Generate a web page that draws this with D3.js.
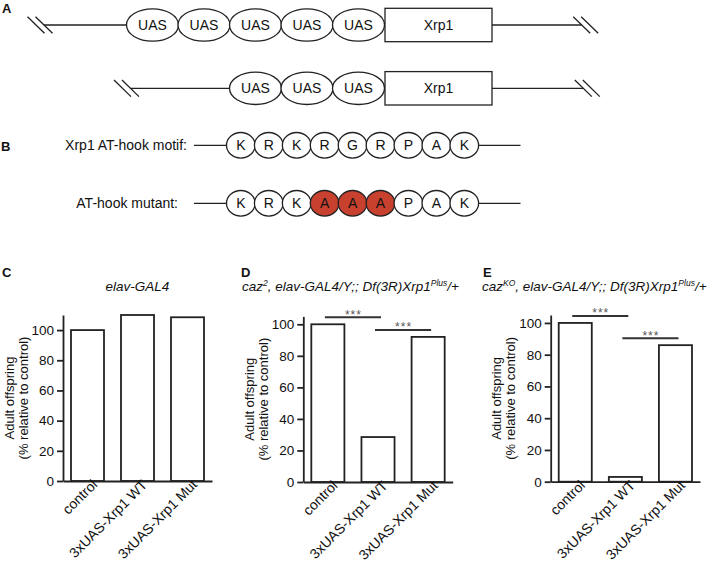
<!DOCTYPE html>
<html>
<head>
<meta charset="utf-8">
<script src="https://cdn.jsdelivr.net/npm/d3@7/dist/d3.min.js"></script>
<style>
  body { margin: 0; background: #fff; }
  svg { display: block; font-family: "Liberation Sans", Arial, Helvetica, sans-serif; fill: #111; }
  .axis path, .axis line { stroke: #222; stroke-width: 1.8; fill: none; }
  .axis text { font-size: 13.5px; fill: #111; font-family: "Liberation Sans", Arial, sans-serif; }
  .bar { fill: #fff; stroke: #222; stroke-width: 1.8; }
  .letter { font-weight: bold; font-size: 13px; }
  .diag line { stroke: #222; stroke-width: 1.3; fill: none; }
  .diag ellipse, .diag rect { fill: #fff; stroke: #222; stroke-width: 1.3; }
  .diag text { font-size: 14px; }
  .sig line { stroke: #333; stroke-width: 2; }
  .sig text { font-size: 12px; fill: #555; letter-spacing: 1px; }
</style>
</head>
<body>
<svg id="fig" width="719" height="565"></svg>
<script>
// ---- data ----
const uasCopies = [5, 3];
const geneName = "Xrp1";
const motifLabels = ["Xrp1 AT-hook motif:", "AT-hook mutant:"];
const motifWT = ["K", "R", "K", "R", "G", "R", "P", "A", "K"];
const motifMut = ["K", "R", "K", "A", "A", "A", "P", "A", "K"];
const mutatedSites = [3, 4, 5];

const categories = ["control", "3xUAS-Xrp1 WT", "3xUAS-Xrp1 Mut"];
const valuesC = [100, 110, 108.5];
const valuesD = [100, 28.5, 92];
const valuesE = [100, 3, 86];
const yTicks = [0, 20, 40, 60, 80, 100];
const sigPairs = [["control", "3xUAS-Xrp1 WT"], ["3xUAS-Xrp1 WT", "3xUAS-Xrp1 Mut"]];
const sigLabel = "***";

// title pieces: [text, isSuperscript]
const titleC = [["elav-GAL4", false]];
const titleD = [["caz", false], ["2", true], [", elav-GAL4/Y;; Df(3R)Xrp1", false], ["Plus", true], ["/+", false]];
const titleE = [["caz", false], ["KO", true], [", elav-GAL4/Y;; Df(3R)Xrp1", false], ["Plus", true], ["/+", false]];

const svg = d3.select("#fig");

// panel letters
const letters = [["A", 2, 12.5], ["B", 1, 151], ["C", 2, 277], ["D", 241, 277], ["E", 483, 277]];
svg.selectAll(".letter").data(letters).join("text")
  .attr("class", "letter")
  .attr("x", d => d[1])
  .attr("y", d => d[2])
  .text(d => d[0]);

// ---- A: UAS constructs ----
const gA = svg.append("g").attr("class", "diag");
const rowsA = [{ y: 25, breakL: 40, breakR: 585.7 }, { y: 88.3, breakL: 126.5, breakR: 587.3 }];
const boxL = 385, boxR = 492;
const uasX = d3.scaleLinear().domain([0, 1]).range([358.5, 307]); // slot counted back from the gene box

function breakMark(g, cx, cy) {
  [-4, 4].forEach(o => {
    g.append("line")
      .attr("x1", cx + o - 8.5).attr("y1", cy - 8.3)
      .attr("x2", cx + o + 8.5).attr("y2", cy + 8.3);
  });
}

uasCopies.forEach((n, i) => {
  const r = rowsA[i];
  gA.append("line").attr("x1", r.breakL + 4).attr("x2", r.breakR - 4)
    .attr("y1", r.y).attr("y2", r.y);
  breakMark(gA, r.breakL, r.y);
  breakMark(gA, r.breakR, r.y);
  const slots = d3.range(n).reverse();
  gA.selectAll(null).data(slots).join("ellipse")
    .attr("cx", k => uasX(k)).attr("cy", r.y)
    .attr("rx", 26).attr("ry", 16.2);
  gA.selectAll(null).data(slots).join("text")
    .attr("x", k => uasX(k)).attr("y", r.y).attr("dy", "0.36em")
    .attr("text-anchor", "middle").text("UAS");
  gA.append("rect").attr("x", boxL).attr("y", r.y - 16.7)
    .attr("width", boxR - boxL).attr("height", 33.4);
  gA.append("text").attr("x", (boxL + boxR) / 2).attr("y", r.y).attr("dy", "0.36em")
    .attr("text-anchor", "middle").text(geneName);
});

// ---- B: AT-hook motif ----
const gB = svg.append("g").attr("class", "diag");
const rowsB = [{ y: 145.3, labelEnd: 187, seq: motifWT }, { y: 203.3, labelEnd: 178, seq: motifMut }];
const siteX = d3.scaleLinear().domain([0, motifWT.length - 1]).range([240.8, 464.3]);

rowsB.forEach((r, ri) => {
  gB.append("line").attr("x1", 194).attr("x2", 520.5).attr("y1", r.y).attr("y2", r.y);
  gB.append("text").attr("x", r.labelEnd).attr("y", r.y).attr("dy", "0.36em")
    .attr("text-anchor", "end").text(motifLabels[ri]);
  const sites = r.seq.map((aa, i) => ({ aa, i, mut: ri === 1 && mutatedSites.includes(i) }));
  gB.selectAll(null).data(sites).join("ellipse")
    .attr("cx", d => siteX(d.i)).attr("cy", r.y)
    .attr("rx", 14.3).attr("ry", 12.8)
    .style("fill", d => d.mut ? "#c8412f" : "#fff");
  gB.selectAll(null).data(sites).join("text")
    .attr("x", d => siteX(d.i)).attr("y", r.y).attr("dy", "0.36em")
    .attr("text-anchor", "middle").text(d => d.aa);
});

// ---- C, D, E: bar charts ----
function barPanel(o) {
  const g = svg.append("g");
  const x = d3.scaleBand().domain(categories).range([o.x0, o.x1])
    .paddingInner(0.34).paddingOuter(0.16);
  const y = d3.scaleLinear().domain([0, o.yMax]).range([o.yBottom, o.yTop]);

  g.selectAll(".bar").data(o.values).join("rect")
    .attr("class", "bar")
    .attr("x", (d, i) => x(categories[i]))
    .attr("y", d => y(d))
    .attr("width", x.bandwidth())
    .attr("height", d => y(0) - y(d));

  g.append("g").attr("class", "axis")
    .attr("transform", `translate(${o.x0},0)`)
    .call(d3.axisLeft(y).tickValues(yTicks).tickSize(6).tickPadding(3).tickSizeOuter(0));

  const xa = g.append("g").attr("class", "axis")
    .attr("transform", `translate(0,${o.yBottom})`)
    .call(d3.axisBottom(x).tickSize(0).tickSizeOuter(0));
  xa.selectAll(".tick text")
    .style("font-size", "14px")
    .attr("text-anchor", "end")
    .attr("dy", "0.35em")
    .attr("transform", "translate(5,-1) rotate(-45)");

  // y-axis label
  const cy = (o.yTop + o.yBottom) / 2;
  const yl = g.append("text").attr("font-size", 13).attr("text-anchor", "middle")
    .attr("transform", `translate(${o.x0 - 49.5},${cy}) rotate(-90)`);
  yl.append("tspan").attr("x", 0).attr("dy", 0).text("Adult offspring");
  yl.append("tspan").attr("x", 0).attr("dy", 14).text("(% relative to control)");

  // title
  const t = g.append("text").attr("font-size", 13.5).attr("font-style", "italic")
    .attr("x", o.titleX).attr("y", 291)
    .attr("text-anchor", o.titleAnchor);
  o.title.forEach(([s, sup], i) => {
    const ts = t.append("tspan").text(s);
    if (sup) ts.attr("font-size", 8.5).attr("dy", -5);
    else if (i > 0 && o.title[i - 1][1]) ts.attr("dy", 5);
  });

  // significance bars
  if (o.sig) {
    const sg = g.append("g").attr("class", "sig");
    o.sig.forEach(([a, b]) => {
      const ia = categories.indexOf(a), ib = categories.indexOf(b);
      const ly = y(Math.max(o.values[ia], o.values[ib])) - 7;
      const xa1 = x(a) + x.bandwidth() / 2 - 3, xb1 = x(b) + x.bandwidth() / 2 + 3;
      sg.append("line").attr("x1", xa1).attr("x2", xb1).attr("y1", ly).attr("y2", ly);
      sg.append("text").attr("x", (xa1 + xb1) / 2 + 0.5).attr("y", ly + 1.5)
        .attr("text-anchor", "middle").text(sigLabel);
    });
  }
}

barPanel({ x0: 63, x1: 212, yTop: 315, yBottom: 481, yMax: 110, values: valuesC,
  title: titleC, titleX: 137.5, titleAnchor: "middle" });
barPanel({ x0: 303.3, x1: 452.7, yTop: 316.4, yBottom: 482, yMax: 105, values: valuesD,
  title: titleD, titleX: 242, titleAnchor: "start", sig: sigPairs });
barPanel({ x0: 550.7, x1: 700, yTop: 315, yBottom: 481.7, yMax: 105, values: valuesE,
  title: titleE, titleX: 482, titleAnchor: "start", sig: sigPairs });
</script>
</body>
</html>
